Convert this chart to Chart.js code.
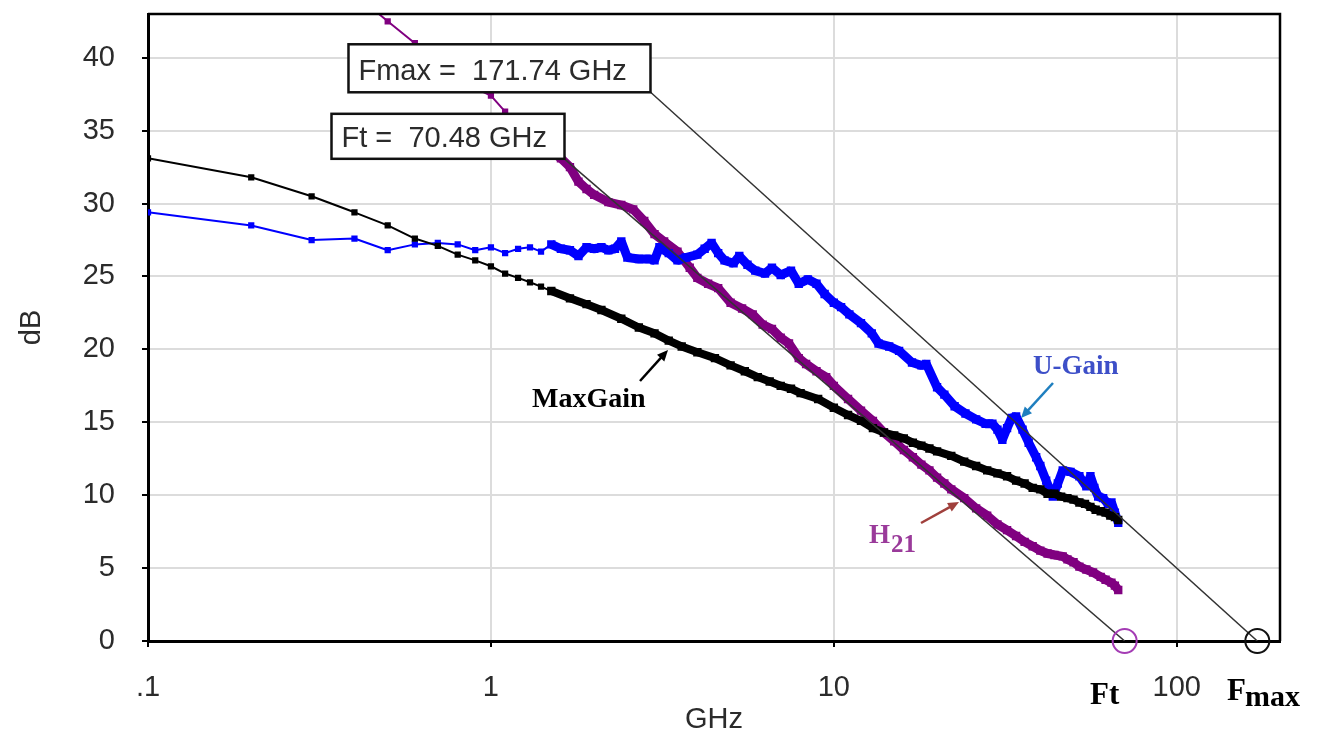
<!DOCTYPE html>
<html>
<head>
<meta charset="utf-8">
<title>Gain vs frequency</title>
<script src="https://cdn.jsdelivr.net/npm/chart.js@4.4.0/dist/chart.umd.min.js"></script>
<style>
  html, body { margin: 0; padding: 0; background: #fff; }
  #wrap { width: 1321px; height: 737px; position: relative; }
</style>
</head>
<body>
<div id="wrap"><canvas id="chart"></canvas></div>
<script>
// values (frequency in GHz, gain in dB)
const maxGainFreq = [0.1, 0.2, 0.3, 0.4, 0.5, 0.6, 0.7, 0.8, 0.9, 1.0, 1.1, 1.2, 1.3, 1.4, 1.5, 1.7, 1.9, 2.1, 2.4, 2.7,
  3.0, 3.3, 3.6, 4.0, 4.5, 5.0, 5.5, 6.0, 6.5, 7.0, 7.5, 8.0, 9.0, 10, 11, 12, 13, 14, 15, 16, 17, 18, 19, 20,
  22, 24, 26, 28, 30, 32, 34, 36, 38, 40, 42, 44, 46, 48, 50, 52, 54, 56, 58, 60, 62, 64, 66, 67.5];
const maxGainDb = [33.1, 31.8, 30.5, 29.4, 28.5, 27.6, 27.1, 26.5, 26.1, 25.7, 25.2, 24.9, 24.6, 24.3, 24.0, 23.5, 23.1, 22.7, 22.1, 21.5,
  21.1, 20.6, 20.2, 19.8, 19.4, 18.9, 18.5, 18.1, 17.8, 17.5, 17.3, 17.0, 16.6, 16.0, 15.5, 15.1, 14.6, 14.3, 14.1, 13.9, 13.6, 13.4, 13.2, 13.0,
  12.7, 12.3, 12.0, 11.7, 11.5, 11.3, 11.0, 10.8, 10.5, 10.4, 10.1, 10.1, 9.9, 9.8, 9.7, 9.5, 9.4, 9.2, 9.0, 8.9, 8.8, 8.6, 8.5, 8.3];

const uGainFreq = [0.1, 0.2, 0.3, 0.4, 0.5, 0.6, 0.7, 0.8, 0.9, 1.0, 1.1, 1.2, 1.3, 1.4, 1.5, 1.6, 1.7, 1.8, 1.9, 2.0,
  2.1, 2.2, 2.3, 2.4, 2.5, 2.7, 2.9, 3.0, 3.1, 3.3, 3.5, 3.7, 4.0, 4.2, 4.4, 4.6, 4.8, 5.1, 5.3, 5.6,
  5.9, 6.3, 6.6, 7.0, 7.5, 7.9, 8.4, 8.9, 9.4, 10, 10.5, 11.1, 12.0, 12.9, 13.5, 14.5, 15.5, 16.9, 18.0, 18.6,
  20.0, 21.0, 22.5, 24.2, 26.0, 27.7, 29.0, 30.0, 31.0, 32.0, 33.0, 34.0, 35.5, 37.0, 38.9, 40.0, 41.6, 43.5, 45.0, 46.5,
  49.0, 52.0, 54.5, 56.0, 57.5, 59.0, 61.0, 63.0, 64.5, 66.0, 67.5];
const uGainDb = [29.4, 28.5, 27.5, 27.6, 26.8, 27.2, 27.3, 27.2, 26.8, 27.0, 26.6, 26.9, 27.0, 26.7, 27.2, 26.9, 26.8, 26.4, 27.0, 26.9,
  27.0, 26.8, 26.9, 27.4, 26.3, 26.2, 26.2, 26.1, 27.0, 26.6, 26.1, 26.3, 26.5, 26.9, 27.3, 26.6, 26.1, 25.9, 26.4, 25.8,
  25.4, 25.2, 25.6, 25.1, 25.4, 24.5, 24.8, 24.5, 23.8, 23.2, 22.9, 22.4, 21.8, 21.1, 20.4, 20.2, 19.9, 19.1, 18.9, 19.0,
  17.4, 16.9, 16.1, 15.6, 15.2, 14.9, 14.9, 14.5, 13.8, 14.6, 15.3, 15.4, 14.5, 13.6, 12.6, 12.0, 11.0, 9.9, 10.8, 11.7,
  11.6, 11.3, 10.6, 11.3, 10.5, 9.9, 9.8, 9.4, 9.5, 8.8, 8.1];

const h21Freq = [0.4, 0.5, 0.6, 0.7, 0.8, 0.9, 1.0, 1.1, 1.2, 1.3, 1.4, 1.5, 1.6, 1.7, 1.8, 1.9, 2.0, 2.2, 2.4, 2.6,
  2.8, 3.0, 3.2, 3.5, 3.8, 4.0, 4.3, 4.6, 5.0, 5.4, 5.8, 6.2, 6.6, 7.0, 7.4, 7.9, 8.3, 8.9, 9.5, 10,
  11, 12, 13, 14, 15, 16, 17, 18, 19, 20, 21, 22, 24, 26, 28, 30, 32, 34, 36, 38,
  40, 42, 44, 46.5, 48, 50, 52, 54.5, 57, 60, 62, 64.5, 66, 67.5];
const h21Db = [44.4, 42.5, 41.0, 39.8, 38.7, 37.9, 37.4, 36.3, 35.6, 34.9, 34.2, 33.6, 33.1, 32.5, 31.5, 31.0, 30.6, 30.1, 29.9, 29.6,
  28.8, 27.9, 27.4, 26.7, 25.6, 24.9, 24.5, 24.2, 23.2, 22.8, 22.4, 21.7, 21.4, 20.8, 20.4, 19.4, 19.0, 18.5, 18.1, 17.5,
  16.6, 15.8, 15.1, 14.3, 13.7, 13.1, 12.6, 12.1, 11.7, 11.2, 10.8, 10.4, 9.8, 9.1, 8.6, 8.0, 7.6, 7.2, 6.8, 6.5,
  6.2, 6.0, 5.9, 5.8, 5.6, 5.4, 5.1, 4.9, 4.7, 4.4, 4.2, 4.0, 3.8, 3.5];

// -20 dB/decade extrapolations drawn by the tool
const ftValue = 70.48;
const fmaxValue = 171.74;
const ftLineFreq = [1.65, ftValue];
const ftLineDb = [33.0, 0];
const fmaxLineFreq = [2.9, fmaxValue];
const fmaxLineDb = [37.7, 0];

const xTickValues = [0.1, 1, 10, 100];
const xTickLabels = [".1", "1", "10", "100"];
const yTickValues = [0, 5, 10, 15, 20, 25, 30, 35, 40];

const SANS = "'Liberation Sans', Arial, sans-serif";
const SERIF = "'Liberation Serif', 'Times New Roman', serif";
const TEXT = "#2b2b2b";

function toPoints(xs, ys) {
  return xs.map((x, i) => ({ x: x, y: ys[i] }));
}

// dense part of the sweep: markers overlap into a thick band
const denseFrom = 1.5;

function arrow(ctx, x0, y0, x1, y1, color) {
  const ang = Math.atan2(y1 - y0, x1 - x0);
  ctx.strokeStyle = color;
  ctx.fillStyle = color;
  ctx.lineWidth = 2.5;
  ctx.beginPath();
  ctx.moveTo(x0, y0);
  ctx.lineTo(x1 - 7 * Math.cos(ang), y1 - 7 * Math.sin(ang));
  ctx.stroke();
  ctx.beginPath();
  ctx.moveTo(x1, y1);
  ctx.lineTo(x1 - 12 * Math.cos(ang - 0.42), y1 - 12 * Math.sin(ang - 0.42));
  ctx.lineTo(x1 - 12 * Math.cos(ang + 0.42), y1 - 12 * Math.sin(ang + 0.42));
  ctx.closePath();
  ctx.fill();
}

function valueBox(ctx, right, bottom, w, h, text) {
  ctx.fillStyle = "#fff";
  ctx.fillRect(right - w, bottom - h, w, h);
  ctx.strokeStyle = "#111";
  ctx.lineWidth = 2.5;
  ctx.strokeRect(right - w, bottom - h, w, h);
  ctx.fillStyle = TEXT;
  ctx.font = "29px " + SANS;
  ctx.textBaseline = "alphabetic";
  ctx.textAlign = "left";
  ctx.fillText(text, right - w + 10, bottom - 12);
}

const overlayPlugin = {
  id: "overlay",
  afterDatasetsDraw(chart) {
    const { ctx, chartArea: a, scales: { x, y } } = chart;
    ctx.save();

    // top and right frame
    ctx.strokeStyle = "#000";
    ctx.lineWidth = 2.5;
    ctx.beginPath();
    ctx.moveTo(a.left, a.top);
    ctx.lineTo(a.right, a.top);
    ctx.lineTo(a.right, a.bottom);
    ctx.stroke();

    // boxes sit with their lower right corner on the start of each line
    valueBox(ctx, x.getPixelForValue(fmaxLineFreq[0]) + 1, y.getPixelForValue(fmaxLineDb[0]) + 1, 302, 48,
      "Fmax =  " + fmaxValue.toFixed(2) + " GHz");
    valueBox(ctx, x.getPixelForValue(ftLineFreq[0]) - 1, y.getPixelForValue(ftLineDb[0]) - 1, 233, 45,
      "Ft =  " + ftValue.toFixed(2) + " GHz");

    // hand-made annotations
    ctx.textAlign = "left";
    ctx.textBaseline = "alphabetic";
    ctx.font = "bold 28px " + SERIF;
    ctx.fillStyle = "#000";
    ctx.fillText("MaxGain", 532, 407);
    arrow(ctx, 640, 381, 668, 350, "#000");

    ctx.font = "bold 27px " + SERIF;
    ctx.fillStyle = "#3d4fc8";
    ctx.fillText("U-Gain", 1033, 374);
    arrow(ctx, 1053, 383, 1021, 418, "#1f7fbf");

    ctx.fillStyle = "#9a3a9a";
    ctx.fillText("H", 869, 543);
    ctx.font = "bold 25px " + SERIF;
    ctx.fillText("21", 891, 552);
    arrow(ctx, 921, 523, 959, 502, "#a0403c");

    ctx.fillStyle = "#000";
    ctx.font = "bold 31px " + SERIF;
    ctx.fillText("Ft", 1090, 704);
    ctx.fillText("F", 1227, 700);
    ctx.font = "bold 30px " + SERIF;
    ctx.fillText("max", 1245, 706);

    ctx.restore();
  }
};

function gainSeries(label, xs, ys, color, thick) {
  return {
    label: label,
    data: toPoints(xs, ys),
    borderColor: color,
    backgroundColor: color,
    borderWidth: 2,
    pointStyle: "rect",
    pointRadius: c => (c.raw && c.raw.x >= denseFrom) ? 4.5 : 3,
    borderJoinStyle: "bevel",
    segment: { borderWidth: c => c.p0.parsed.x >= denseFrom ? thick : 2 }
  };
}

const ctx = document.getElementById("chart").getContext("2d");

new Chart(ctx, {
  type: "line",
  data: {
    datasets: [
      {
        label: "Ft",
        data: [{ x: ftValue, y: 0 }],
        showLine: false,
        pointRadius: 12,
        pointBorderWidth: 2,
        pointBorderColor: "#a43cb4",
        pointBackgroundColor: "rgba(0,0,0,0)",
        clip: false
      },
      {
        label: "Fmax",
        data: [{ x: fmaxValue, y: 0 }],
        showLine: false,
        pointRadius: 12,
        pointBorderWidth: 2,
        pointBorderColor: "#111",
        pointBackgroundColor: "rgba(0,0,0,0)",
        clip: false
      },
      {
        label: "Ft line",
        data: toPoints(ftLineFreq, ftLineDb),
        borderColor: "#333",
        borderWidth: 1.5,
        pointRadius: 0
      },
      {
        label: "Fmax line",
        data: toPoints(fmaxLineFreq, fmaxLineDb),
        borderColor: "#333",
        borderWidth: 1.5,
        pointRadius: 0
      },
      gainSeries("MaxGain", maxGainFreq, maxGainDb, "#000", 8),
      gainSeries("U-Gain", uGainFreq, uGainDb, "#0000ff", 9),
      gainSeries("H21", h21Freq, h21Db, "#800080", 9)
    ]
  },
  options: {
    responsive: true,
    maintainAspectRatio: false,
    animation: false,
    layout: { padding: { top: 13, right: 41, left: 0, bottom: 0 } },
    plugins: {
      legend: { display: false },
      tooltip: { enabled: false }
    },
    scales: {
      x: {
        type: "logarithmic",
        min: 0.1,
        max: 200,
        afterFit: s => { s.height = 96; s.paddingLeft = 0; s.paddingRight = 0; },
        afterBuildTicks: s => { s.ticks = xTickValues.map(v => ({ value: v })); },
        ticks: {
          callback: (v, i) => xTickLabels[i],
          font: { family: SANS, size: 29 },
          color: TEXT,
          padding: 24,
          maxRotation: 0,
          autoSkip: false
        },
        grid: { color: "#dcdcdc", lineWidth: 2, tickLength: 6, tickColor: "#000", tickWidth: 2 },
        border: { color: "#000", width: 3 },
        title: { display: true, text: "GHz", font: { family: SANS, size: 29 }, color: TEXT, padding: { top: 0, bottom: 0 } }
      },
      y: {
        min: 0,
        max: 43,
        afterFit: s => { s.width = 148; s.paddingTop = 0; s.paddingBottom = 0; },
        afterBuildTicks: s => { s.ticks = yTickValues.map(v => ({ value: v })); },
        ticks: {
          font: { family: SANS, size: 29 },
          color: TEXT,
          padding: 27
        },
        grid: { color: "#dcdcdc", lineWidth: 2, tickLength: 6, tickColor: "#000", tickWidth: 2 },
        border: { color: "#000", width: 3 },
        title: { display: true, text: "dB", font: { family: SANS, size: 29 }, color: TEXT, padding: { top: 15, bottom: 0 } }
      }
    }
  },
  plugins: [overlayPlugin]
});
</script>
</body>
</html>
